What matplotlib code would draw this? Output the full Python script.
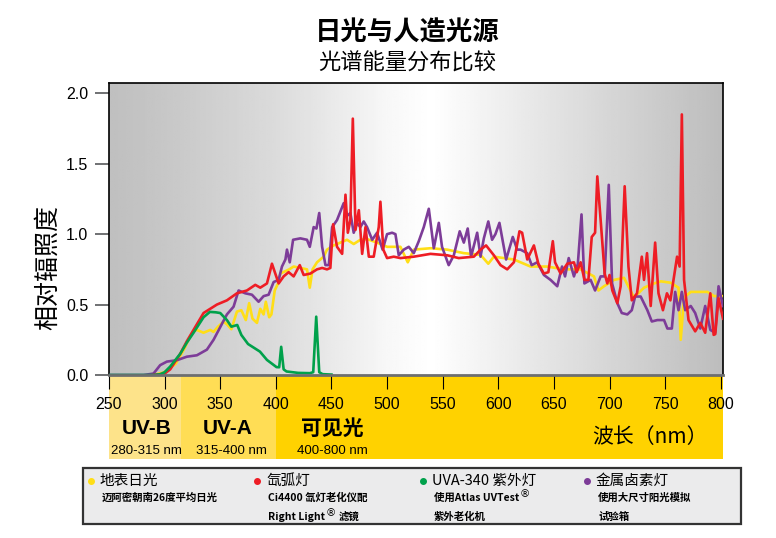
import numpy as np
import matplotlib
matplotlib.use('Agg')
import matplotlib.pyplot as plt
from matplotlib import font_manager
from matplotlib.patches import Rectangle
from matplotlib.lines import Line2D
import matplotlib.transforms as mtransforms

# ---- data ----
sun_wl = [290, 300, 310, 318, 322, 326, 329, 335, 341, 344,
          348, 353, 356, 360, 365, 369, 373, 376, 379, 383,
          386, 389, 391, 394, 396, 399, 402, 404, 412, 416,
          422, 428, 430.5, 433, 437, 443, 446, 452, 458, 464,
          470, 476, 482, 491, 500, 506, 512, 518.6, 524, 539,
          554, 569, 584, 591, 596, 614, 629, 644, 659, 674,
          686, 690, 695, 704, 713, 722, 731, 740, 746, 755,
          762, 764, 767, 773, 779, 788, 794, 803]
sun_val = [0, 0.02, 0.08, 0.19, 0.26, 0.31, 0.32, 0.30, 0.32, 0.306,
           0.343, 0.379, 0.36, 0.325, 0.45, 0.46, 0.39, 0.51, 0.40, 0.37,
           0.47, 0.43, 0.52, 0.41, 0.43, 0.60, 0.65, 0.72, 0.75, 0.77,
           0.76, 0.75, 0.62, 0.75, 0.80, 0.84, 0.89, 0.92, 0.94, 0.96,
           0.93, 0.96, 0.965, 0.94, 0.91, 0.91, 0.91, 0.80, 0.89, 0.90,
           0.89, 0.865, 0.853, 0.79, 0.84, 0.82, 0.77, 0.77, 0.75, 0.75,
           0.70, 0.60, 0.63, 0.675, 0.69, 0.55, 0.62, 0.65, 0.665, 0.655,
           0.62, 0.25, 0.55, 0.59, 0.59, 0.59, 0.56, 0.56]

xenon_wl = [290, 300, 305, 314, 320, 326, 335, 347, 356, 365,
            374, 381.5, 386, 392, 396.5, 399.5, 402.5, 407, 411.5, 416,
            421.5, 425, 431, 437, 441.6, 446, 449, 451.5, 455, 459.6,
            462.6, 464.7, 467, 469.2, 471.6, 474.6, 477.6, 480.6, 483.6, 488,
            492.5, 494, 496.6, 500, 506, 512, 524, 539, 554, 564.4,
            578, 584, 589, 596, 602, 608, 614, 619, 621.4, 626,
            632, 636, 641, 645, 649, 651, 656, 662, 668, 670.5,
            674, 677.5, 681, 684, 687, 689, 692, 695.6, 698, 700,
            702.5, 707, 710, 713.6, 717, 720, 724.7, 729, 731, 733.7,
            737, 741, 744, 748, 751.6, 754.7, 760.7, 763, 765, 767,
            771, 777, 781.6, 786, 790.6, 793.6, 795, 798, 802]
xenon_val = [0, 0.01, 0.04, 0.15, 0.24, 0.32, 0.44, 0.50, 0.53, 0.58,
             0.60, 0.64, 0.62, 0.65, 0.79, 0.72, 0.65, 0.70, 0.73, 0.70,
             0.78, 0.71, 0.72, 0.75, 0.76, 0.75, 0.76, 1.07, 0.91, 0.86,
             1.28, 1.01, 1.10, 1.82, 1.03, 1.17, 0.86, 1.05, 0.84, 0.84,
             1.05, 1.23, 0.89, 0.83, 0.84, 0.83, 0.84, 0.86, 0.85, 0.83,
             0.84, 0.89, 0.92, 0.85, 0.78, 0.75, 0.80, 1.02, 1.01, 0.82,
             0.92, 0.79, 0.72, 0.73, 0.95, 0.80, 0.72, 0.79, 0.80, 0.73,
             0.80, 0.675, 0.675, 0.98, 1.01, 1.41, 1.10, 0.72, 0.65, 0.71,
             0.60, 0.51, 0.63, 1.34, 0.77, 0.53, 0.58, 0.84, 0.675, 0.865,
             0.49, 0.94, 0.58, 0.46, 0.58, 0.53, 0.84, 0.77, 1.85, 0.675,
             0.39, 0.31, 0.37, 0.30, 0.58, 0.285, 0.29, 0.545, 0.40]

uva_wl = [250, 280, 290, 296, 300, 305, 314, 320, 326, 335,
          340.7, 346, 350, 356, 360, 365.3, 369, 375, 385.7, 392,
          400.6, 403, 404.8, 407, 409.6, 420, 430.6, 433.6, 436.3, 439,
          442, 450]
uva_val = [0, 0, 0, 0.005, 0.02, 0.06, 0.15, 0.23, 0.30, 0.41,
           0.448, 0.445, 0.44, 0.39, 0.343, 0.355, 0.284, 0.22, 0.166, 0.107,
           0.056, 0.055, 0.20, 0.04, 0.025, 0.015, 0.013, 0.02, 0.414, 0.02,
           0.006, 0.003]

halide_wl = [250, 281, 290, 296, 302, 311, 320, 329, 338, 344,
             350, 356, 362, 366.5, 372.5, 378.5, 384.5, 389, 393.5, 398,
             402.5, 405.5, 408.6, 410, 412.5, 415.5, 422, 428, 430.5, 434,
             436.5, 439, 441.6, 444.6, 447.6, 450.6, 455, 461, 464, 467,
             470, 473, 476, 479, 482, 486.6, 491, 496, 500, 504.5,
             507.5, 510.5, 515, 519.5, 524, 528.5, 533, 537.5, 542, 546.5,
             549.4, 555.4, 560, 565.3, 569, 572.5, 575.5, 581, 584, 587,
             591, 594.4, 597.4, 601, 607, 613, 617, 620, 626, 630,
             635, 641, 647, 653, 657.3, 660, 663.3, 668, 671.5, 674.8,
             677.4, 683, 687, 692, 695.6, 699.3, 702.3, 707, 711, 716,
             720, 723, 728, 734, 738, 743, 749, 752, 756, 759,
             762, 765, 768, 773, 777, 781.6, 786, 790.6, 795, 798,
             802]
halide_val = [0, 0, 0.01, 0.07, 0.095, 0.105, 0.13, 0.14, 0.18, 0.25,
              0.34, 0.43, 0.485, 0.60, 0.58, 0.57, 0.52, 0.56, 0.57, 0.66,
              0.675, 0.77, 0.82, 0.89, 0.80, 0.96, 0.97, 0.96, 0.91, 1.05,
              1.04, 1.15, 0.91, 0.78, 0.78, 1.05, 1.10, 1.22, 1.13, 1.15,
              1.01, 1.08, 1.05, 1.09, 1.05, 0.96, 1.01, 0.89, 1.00, 1.01,
              1.00, 0.85, 0.89, 0.91, 0.865, 0.95, 1.05, 1.18, 0.90, 1.08,
              0.91, 0.78, 0.85, 1.02, 0.94, 1.04, 0.84, 1.01, 0.84, 0.97,
              1.09, 0.96, 1.00, 1.08, 0.82, 0.98, 0.89, 0.89, 0.865, 0.78,
              0.80, 0.71, 0.675, 0.63, 0.77, 0.70, 0.83, 0.70, 0.79, 1.14,
              0.65, 0.675, 0.60, 0.70, 0.70, 1.35, 0.65, 0.51, 0.44, 0.43,
              0.46, 0.557, 0.557, 0.46, 0.38, 0.39, 0.39, 0.33, 0.33, 0.59,
              0.46, 0.59, 0.46, 0.49, 0.44, 0.33, 0.49, 0.32, 0.30, 0.63,
              0.49]

x_ticks = [250, 300, 350, 400, 450, 500, 550, 600, 650, 700, 750, 800]
y_ticks = [0.0, 0.5, 1.0, 1.5, 2.0]
y_tick_labels = ['0.0', '0.5', '1.0', '1.5', '2.0']

# ---- fonts ----
names = {f.name for f in font_manager.fontManager.ttflist}
narrow = 'Liberation Sans Narrow' if 'Liberation Sans Narrow' in names else 'Liberation Sans'
cjk = ['Noto Sans CJK SC', 'DejaVu Sans']
plt.rcParams['font.family'] = cjk

W, H = 776, 538
fig = plt.figure(figsize=(W / 100, H / 100), dpi=100)
fig.patch.set_facecolor('white')

def fx(px):
    return px / W

def fy(py):
    return 1 - py / H

ax = fig.add_axes([fx(109), fy(375), (723 - 109) / W, (375 - 83) / H])
xmin, xmax, ymax = 250, 802, 2.073
ax.set_xlim(xmin, xmax)
ax.set_ylim(0, ymax)

# grey-white-grey background
gx = np.linspace(xmin, xmax, 300)
shade = np.interp(gx, [250, 300, 400, 500, 540, 600, 700, 802],
                  [0.75, 0.78, 0.86, 0.97, 1.0, 0.94, 0.84, 0.74])
bg = np.tile(shade, (2, 1))
ax.imshow(bg, cmap='gray', vmin=0, vmax=1, extent=[xmin, xmax, 0, ymax],
          aspect='auto', interpolation='bilinear', zorder=0)

# spectra
ax.plot(sun_wl, sun_val, color='#FFDE17', lw=1.9, zorder=3)
ax.plot(halide_wl, halide_val, color='#7D3C98', lw=1.9, zorder=4)
ax.plot(xenon_wl, xenon_val, color='#EE1D25', lw=1.9, zorder=5)
ax.plot(uva_wl, uva_val, color='#00A14B', lw=1.9, zorder=6)

# axes styling
for s in ['top', 'left', 'right']:
    ax.spines[s].set_color('black')
    ax.spines[s].set_linewidth(1.2)
ax.spines['bottom'].set_color('#6d6e70')
ax.spines['bottom'].set_linewidth(2)
ax.spines['bottom'].set_zorder(8)

ax.set_xticks(x_ticks)
ax.set_xticklabels([str(t) for t in x_ticks])
ax.set_yticks(y_ticks)
ax.set_yticklabels(y_tick_labels)
ax.tick_params(axis='x', direction='out', length=10, width=0.8, color='black',
               pad=6, labelsize=11.5)
ax.tick_params(axis='y', direction='out', length=10, width=1.2, color='#58595b',
               pad=5, labelsize=11.5)
for lbl in ax.get_xticklabels() + ax.get_yticklabels():
    lbl.set_fontfamily(narrow)

# yellow band under the axis
band = mtransforms.blended_transform_factory(ax.transData, ax.transAxes)
band_h = (459 - 375) / (375 - 83)
for x0, x1, c in [(250, 315, '#FDE38A'), (315, 400, '#FFDD55'), (400, xmax, '#FFD200')]:
    ax.add_patch(Rectangle((x0, -band_h), x1 - x0, band_h, transform=band,
                           facecolor=c, edgecolor='none', clip_on=False, zorder=-1))

# titles
fig.text(fx(407), fy(33), '日光与人造光源', ha='center', va='center',
         fontsize=19, fontweight='bold')
fig.text(fx(407), fy(63), '光谱能量分布比较', ha='center', va='center', fontsize=16)
fig.text(fx(48), fy(268), '相对辐照度', ha='center', va='center', rotation=90,
         fontsize=18)

# band labels
fig.text(fx(147), fy(429), 'UV-B', ha='center', va='center', fontsize=15,
         fontweight='bold', family='Liberation Sans')
fig.text(fx(146), fy(451), '280-315 nm', ha='center', va='center', fontsize=9.5,
         family='Liberation Sans')
fig.text(fx(228), fy(429), 'UV-A', ha='center', va='center', fontsize=15,
         fontweight='bold', family='Liberation Sans')
fig.text(fx(231), fy(451), '315-400 nm', ha='center', va='center', fontsize=9.5,
         family='Liberation Sans')
fig.text(fx(332), fy(428), '可见光', ha='center', va='center', fontsize=15,
         fontweight='bold')
fig.text(fx(332), fy(451), '400-800 nm', ha='center', va='center', fontsize=9.5,
         family='Liberation Sans')
fig.text(fx(650), fy(437), '波长（nm）', ha='center', va='center', fontsize=15)

# legend box
fig.add_artist(Rectangle((fx(83), fy(524)), (741 - 83) / W, (524 - 468) / H,
                         transform=fig.transFigure, facecolor='#EBEBEC',
                         edgecolor='#333333', linewidth=1.6))

entries = [
    (91, '#FFDE17', '地表日光', ['迈阿密朝南26度平均日光']),
    (257, '#EE1D25', '氙弧灯', ['Ci4400 氙灯老化仪配', 'Right Light']),
    (423, '#00A14B', 'UVA-340 紫外灯', ['使用Atlas UVTest', '紫外老化机']),
    (587, '#7D3C98', '金属卤素灯', ['使用大尺寸阳光模拟', '试验箱']),
]
marked = []
for px, col, title, subs in entries:
    fig.add_artist(Line2D([fx(px)], [fy(481)], marker='o', markersize=4,
                          color=col, transform=fig.transFigure))
    fig.text(fx(px + 9), fy(481), title, ha='left', va='center', fontsize=10.5)
    for k, s in enumerate(subs):
        t = fig.text(fx(px + 11), fy(498 + 19 * k), s, ha='left', va='center',
                     fontsize=7.5, fontweight='bold')
        if s in ('Right Light', '使用Atlas UVTest'):
            marked.append((t, s, 498 + 19 * k))

# registered marks placed after measuring the text
fig.canvas.draw()
renderer = fig.canvas.get_renderer()
for t, s, py in marked:
    bb = t.get_window_extent(renderer)
    r = fig.text(bb.x1 / W + fx(0.5), fy(py - 4), '®', ha='left', va='center',
                 fontsize=7.5, family='DejaVu Sans')
    if s == 'Right Light':
        rb = r.get_window_extent(renderer)
        fig.text(rb.x1 / W + fx(3), fy(py), '滤镜', ha='left', va='center',
                 fontsize=7.5, fontweight='bold')

fig.savefig('out.png', dpi=100)
